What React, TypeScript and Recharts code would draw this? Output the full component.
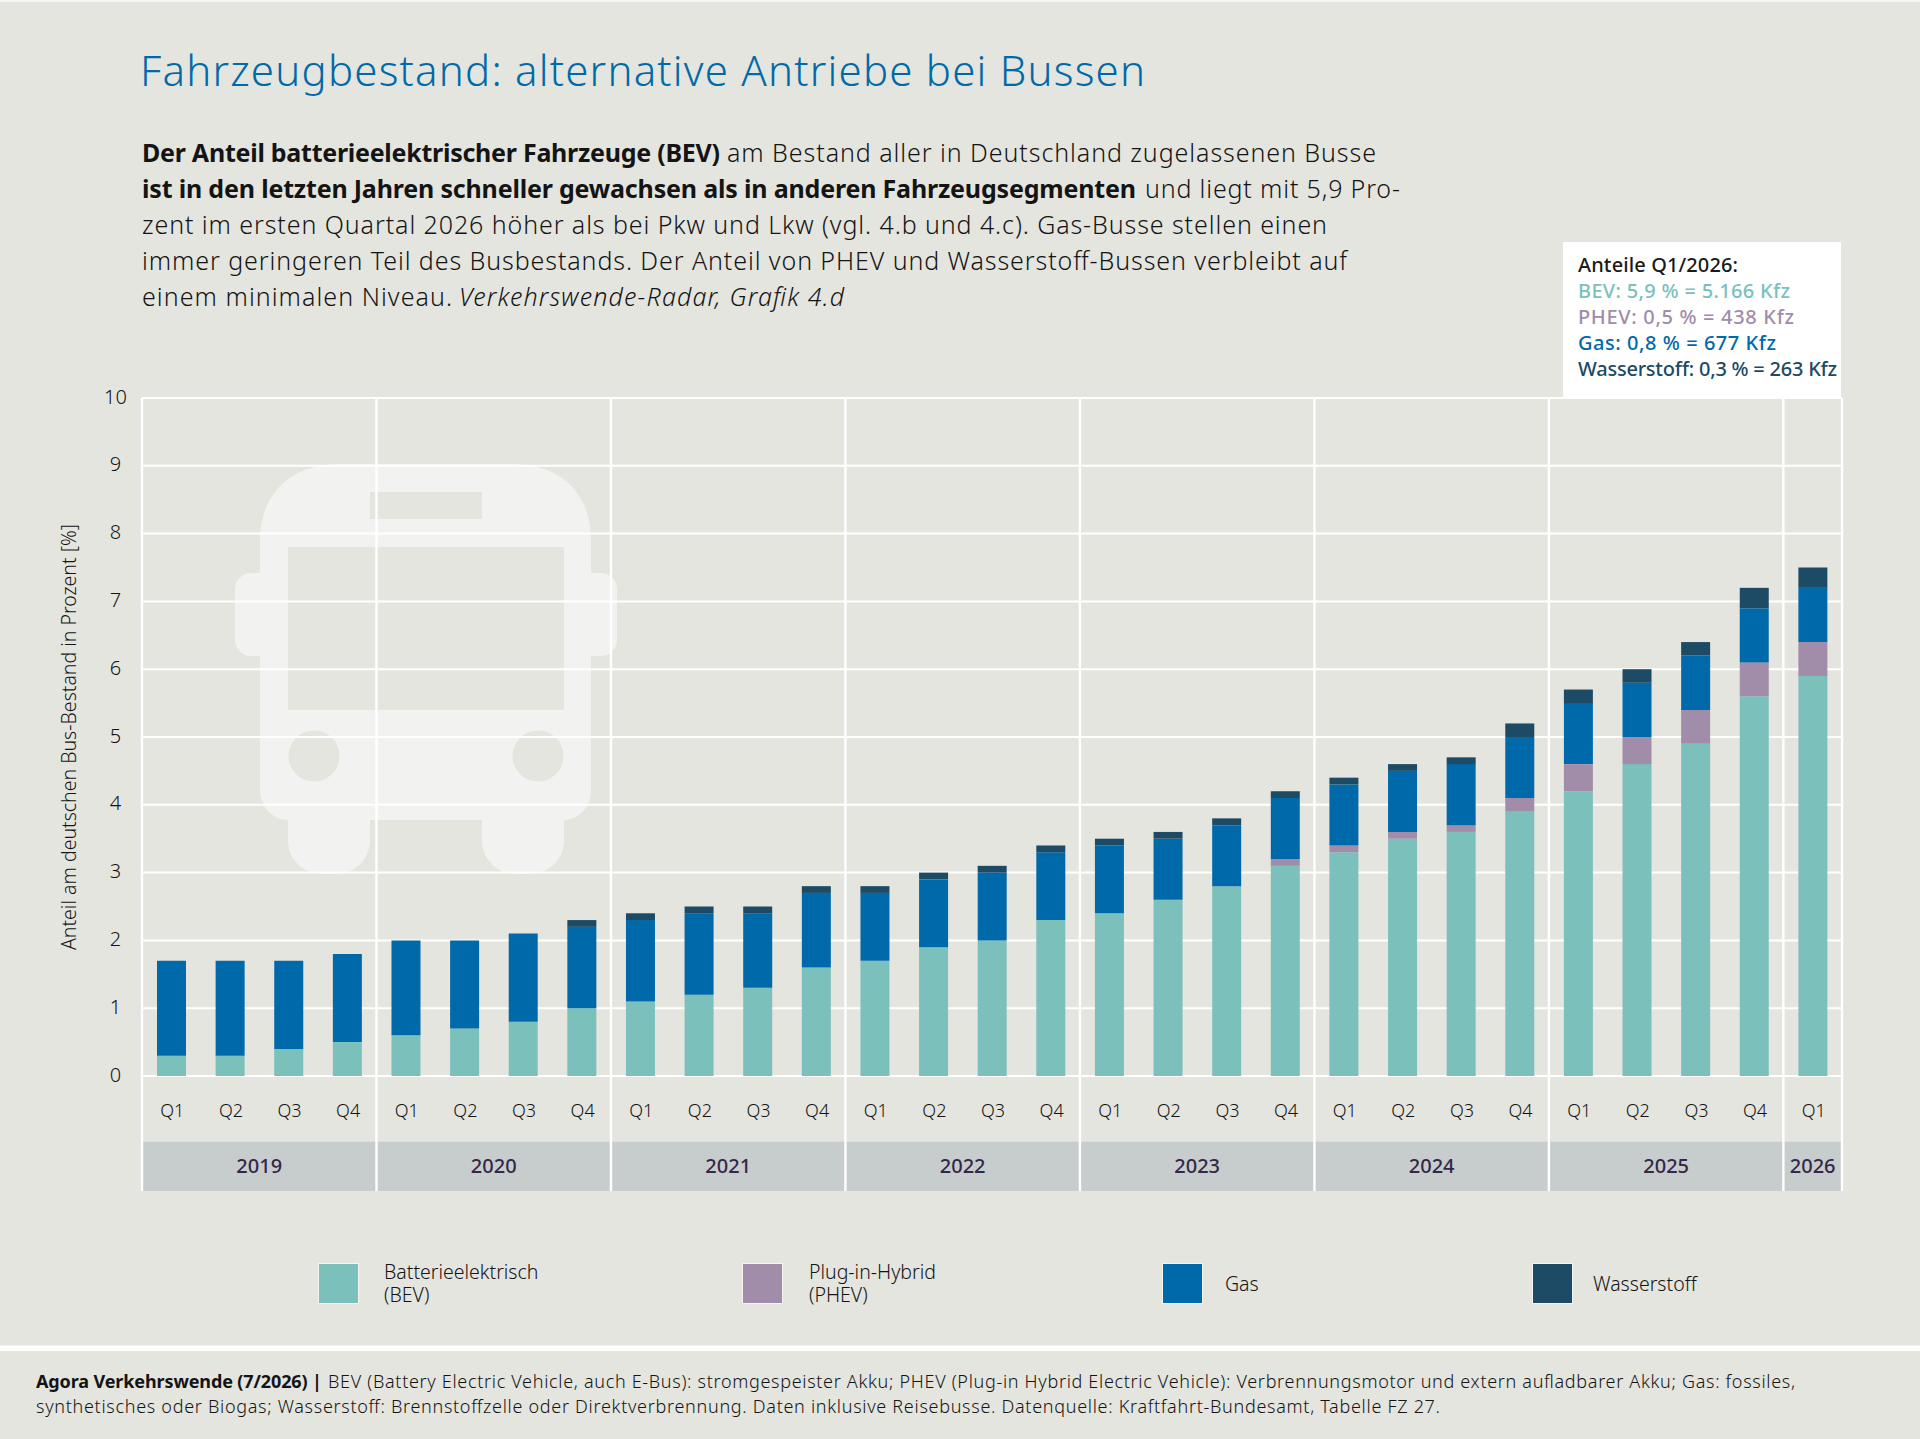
import React from "react";
import { BarChart, Bar, XAxis, YAxis, CartesianGrid, ReferenceLine, ReferenceArea, Legend } from "recharts";

const quarters = ["Q1","Q2","Q3","Q4","Q1","Q2","Q3","Q4","Q1","Q2","Q3","Q4","Q1","Q2","Q3","Q4","Q1","Q2","Q3","Q4","Q1","Q2","Q3","Q4","Q1","Q2","Q3","Q4","Q1"];
const years = ["2019","2020","2021","2022","2023","2024","2025","2026"];
const quartersPerYear = [4,4,4,4,4,4,4,1];
const bev = [0.3,0.3,0.4,0.5,0.6,0.7,0.8,1.0,1.1,1.2,1.3,1.6,1.7,1.9,2.0,2.3,2.4,2.6,2.8,3.1,3.3,3.5,3.6,3.9,4.2,4.6,4.9,5.6,5.9];
const phev = [0,0,0,0,0,0,0,0,0,0,0,0,0,0,0,0,0,0,0,0.1,0.1,0.1,0.1,0.2,0.4,0.4,0.5,0.5,0.5];
const gas = [1.4,1.4,1.3,1.3,1.4,1.3,1.3,1.2,1.2,1.2,1.1,1.1,1.0,1.0,1.0,1.0,1.0,0.9,0.9,0.9,0.9,0.9,0.9,0.9,0.9,0.8,0.8,0.8,0.8];
const h2 = [0,0,0,0,0,0,0,0.1,0.1,0.1,0.1,0.1,0.1,0.1,0.1,0.1,0.1,0.1,0.1,0.1,0.1,0.1,0.1,0.2,0.2,0.2,0.2,0.3,0.3];
const yTicks = [0,1,2,3,4,5,6,7,8,9,10];

const C_BEV = "#7cc0bc", C_PHEV = "#a18ca9", C_GAS = "#0069aa", C_H2 = "#1d4a64";
const BG = "#e4e5df", INK = "#141414", FONT = "'Noto Sans', sans-serif";

const data = quarters.map((q, i) => ({ id: `${i}-${q}`, idx: i, q, bev: bev[i], phev: phev[i], gas: gas[i], h2: h2[i] }));
const boundaries: number[] = [0];
quartersPerYear.forEach((n) => boundaries.push(boundaries[boundaries.length - 1] + n));

const legendItems = [
  { color: C_BEV, lines: ["Batterieelektrisch", "(BEV)"], sx: 317.5, tx: 384 },
  { color: C_PHEV, lines: ["Plug-in-Hybrid", "(PHEV)"], sx: 741.5, tx: 809 },
  { color: C_GAS, lines: ["Gas"], sx: 1161.5, tx: 1225 },
  { color: C_H2, lines: ["Wasserstoff"], sx: 1531.5, tx: 1593 },
];

type Seg = { t: string; x: number; x2: number; w?: number; i?: boolean };
const body: { y: number; segs: Seg[] }[] = [
  { y: 162, segs: [{ t: "Der Anteil batterieelektrischer Fahrzeuge (BEV)", x: 142, x2: 720, w: 700 }, { t: "am Bestand aller in Deutschland zugelassenen Busse", x: 727, x2: 1376 }] },
  { y: 198, segs: [{ t: "ist in den letzten Jahren schneller gewachsen als in anderen Fahrzeugsegmenten", x: 142, x2: 1136, w: 700 }, { t: "und liegt mit 5,9 Pro-", x: 1145, x2: 1400 }] },
  { y: 234, segs: [{ t: "zent im ersten Quartal 2026 höher als bei Pkw und Lkw (vgl. 4.b und 4.c). Gas-Busse stellen einen", x: 142, x2: 1327 }] },
  { y: 270, segs: [{ t: "immer geringeren Teil des Busbestands. Der Anteil von PHEV und Wasserstoff-Bussen verbleibt auf", x: 142, x2: 1347 }] },
  { y: 306, segs: [{ t: "einem minimalen Niveau.", x: 142, x2: 452 }, { t: "Verkehrswende-Radar, Grafik 4.d", x: 459, x2: 844, i: true }] },
];
const callout = [
  { t: "Anteile Q1/2026:", c: "#1a1a1a", y: 272, w: 160 },
  { t: "BEV: 5,9 % = 5.166 Kfz", c: C_BEV, y: 298, w: 212 },
  { t: "PHEV: 0,5 % = 438 Kfz", c: C_PHEV, y: 324, w: 216 },
  { t: "Gas: 0,8 % = 677 Kfz", c: C_GAS, y: 350, w: 198 },
  { t: "Wasserstoff: 0,3 % = 263 Kfz", c: C_H2, y: 376, w: 259 },
];
const footer: { y: number; segs: Seg[] }[] = [
  { y: 1388, segs: [{ t: "Agora Verkehrswende (7/2026) |", x: 36, x2: 322, w: 700 }, { t: "BEV (Battery Electric Vehicle, auch E-Bus): stromgespeister Akku; PHEV (Plug-in Hybrid Electric Vehicle): Verbrennungsmotor und extern aufladbarer Akku; Gas: fossiles,", x: 328, x2: 1795 }] },
  { y: 1413, segs: [{ t: "synthetisches oder Biogas; Wasserstoff: Brennstoffzelle oder Direktverbrennung. Daten inklusive Reisebusse. Datenquelle: Kraftfahrt-Bundesamt, Tabelle FZ 27.", x: 36, x2: 1440 }] },
];

function BusIcon() {
  const f = "#f2f3f1";
  return (
    <g>
      <rect x={235} y={573} width={382} height={83} rx={16} fill={f} />
      <path d="M260 540 C260 495 290 464 340 464 L512 464 C562 464 591 495 591 540 L591 790 C591 808 578 820 564 820 L564 840 C564 860 548 874 530 874 L516 874 C498 874 482 860 482 840 L482 820 L370 820 L370 840 C370 860 354 874 336 874 L322 874 C304 874 288 860 288 840 L288 820 C274 820 260 808 260 790 Z" fill={f} />
      <rect x={370} y={492} width={112} height={27} fill={BG} />
      <rect x={288} y={547} width={276} height={163} fill={BG} />
      <circle cx={314} cy={756} r={25.5} fill={BG} />
      <circle cx={538} cy={756} r={25.5} fill={BG} />
    </g>
  );
}

function YTick(props: any) {
  return <text x={115.5} y={props.y - 2} textAnchor="middle" dominantBaseline="central" fontFamily={FONT} fontWeight={300} fontSize={20} fill={INK}>{props.payload.value}</text>;
}
function QTick(props: any) {
  return <text x={props.x + 1} y={1110} textAnchor="middle" dominantBaseline="central" fontFamily={FONT} fontWeight={300} fontSize={18} fill={INK}>{quarters[props.index]}</text>;
}
function LegendContent() {
  return (
    <div style={{ position: "absolute", left: 0, top: 0, width: 0, height: 0 }}>
      {legendItems.map((it) => (
        <React.Fragment key={it.sx}>
          <div style={{ position: "absolute", left: it.sx, top: 1263, width: 39, height: 39, background: it.color, border: "1px solid #f4f5f2" }} />
          <div style={{ position: "absolute", left: it.tx, top: it.lines.length === 1 ? 1272 : 1259.5, lineHeight: "23px", whiteSpace: "nowrap", fontFamily: FONT, fontWeight: 300, fontSize: 19.5, color: INK }}>
            {it.lines.map((l, k) => (
              <React.Fragment key={l}>{k > 0 && <br />}{l}</React.Fragment>
            ))}
          </div>
        </React.Fragment>
      ))}
    </div>
  );
}

function Line({ y, segs, size, fill = INK }: { y: number; segs: Seg[]; size: number; fill?: string }) {
  return (
    <>
      {segs.map((s) => (
        <text key={s.t} x={s.x} y={y} textLength={s.x2 - s.x} fontFamily={FONT} fontSize={size} fontWeight={s.w ?? 300} fontStyle={s.i ? "italic" : "normal"} fill={fill}>{s.t}</text>
      ))}
    </>
  );
}

export default function App() {
  return (
    <div style={{ position: "absolute", left: 0, top: 0, width: 1920, height: 1439, background: BG, overflow: "hidden" }}>
      <svg width={1920} height={1439} style={{ position: "absolute", left: 0, top: 0 }}>
        <rect x={0} y={0} width={1920} height={2} fill="#f4f5f2" />
        <BusIcon />
        <rect x={1563} y={242} width={278} height={156} fill="#ffffff" />
        <rect x={0} y={1345.5} width={1920} height={5.5} fill="#ffffff" />
      </svg>
      <div style={{ position: "absolute", left: 0, top: 0 }}>
        <BarChart width={1920} height={1439} data={data} margin={{ top: 398, left: 141, right: 78, bottom: 362 }} barCategoryGap={0}>
          <CartesianGrid vertical={false} stroke="#ffffff" strokeWidth={2} strokeOpacity={1} />
          <XAxis dataKey="id" height={1} axisLine={false} tickLine={false} interval={0} tick={<QTick />} />
          <XAxis xAxisId="n" dataKey="idx" type="number" domain={[0, 29]} allowDataOverflow hide />
          <YAxis width={1} domain={[0, 10]} ticks={yTicks} axisLine={false} tickLine={false} tick={<YTick />} interval={0} />
          {years.map((yr, i) => (
            <ReferenceArea key={yr} xAxisId="n" x1={boundaries[i]} x2={boundaries[i + 1]} y1={-1.696} y2={-0.97} ifOverflow="visible" fill="#c7cdcd" fillOpacity={1} stroke="none"
              label={{ value: yr, position: "center", fontFamily: FONT, fontWeight: 500, fontSize: 20, fill: "#35264a" }} />
          ))}
          {boundaries.map((b) => (
            <ReferenceLine key={b} xAxisId="n" ifOverflow="visible" stroke="#ffffff" strokeWidth={2.4} segment={[{ x: b, y: 10 }, { x: b, y: -1.696 }]} />
          ))}
          <Bar dataKey="bev" stackId="a" fill={C_BEV} barSize={29} isAnimationActive={false} />
          <Bar dataKey="phev" stackId="a" fill={C_PHEV} barSize={29} isAnimationActive={false} />
          <Bar dataKey="gas" stackId="a" fill={C_GAS} barSize={29} isAnimationActive={false} />
          <Bar dataKey="h2" stackId="a" fill={C_H2} barSize={29} isAnimationActive={false} />
          <Legend content={<LegendContent />} wrapperStyle={{ left: 0, top: 0, width: 0, height: 0 }} />
        </BarChart>
      </div>
      <svg width={1920} height={1439} style={{ position: "absolute", left: 0, top: 0, pointerEvents: "none" }}>
        <text x={68} y={737} transform="rotate(-90 68 737)" textAnchor="middle" dominantBaseline="central" fontFamily={FONT} fontWeight={300} fontSize={19.5} fill={INK}>Anteil am deutschen Bus-Bestand in Prozent [%]</text>
        <text x={140} y={86} textLength={1005} fontFamily={FONT} fontSize={42} fontWeight={300} fill={C_GAS}>Fahrzeugbestand: alternative Antriebe bei Bussen</text>
        {body.map((l) => <Line key={l.y} y={l.y} segs={l.segs} size={25} />)}
        {callout.map((l) => (
          <text key={l.t} x={1578} y={l.y} textLength={l.w} fontFamily={FONT} fontSize={20} fontWeight={500} fill={l.c}>{l.t}</text>
        ))}
        {footer.map((l) => <Line key={l.y} y={l.y} segs={l.segs} size={18} />)}
      </svg>
    </div>
  );
}
